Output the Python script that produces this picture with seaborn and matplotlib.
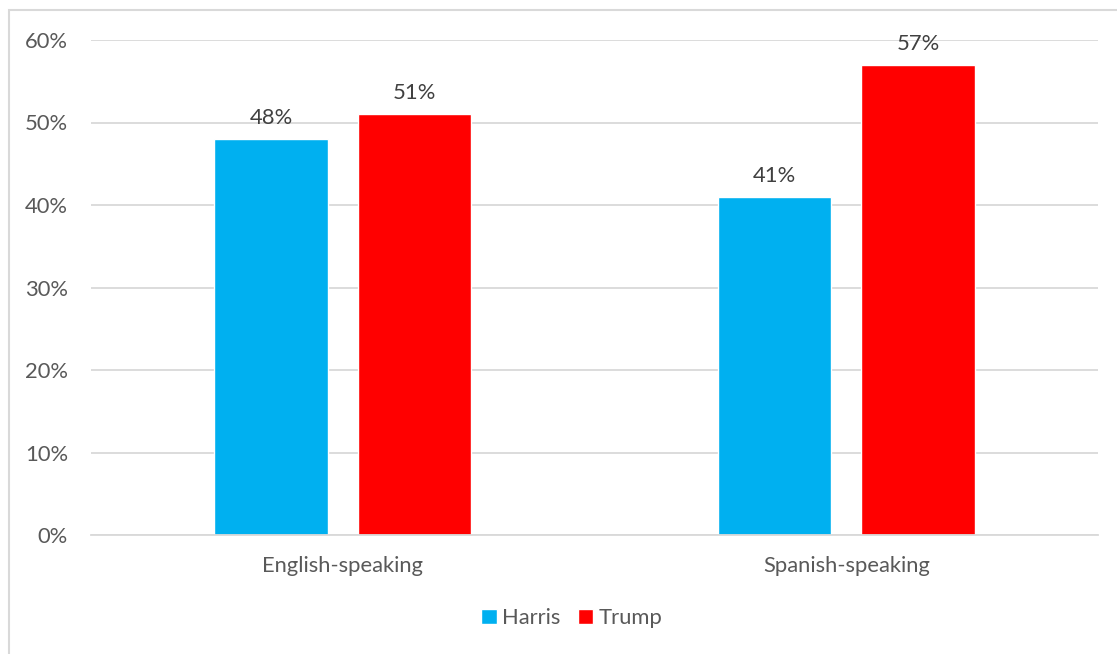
import matplotlib
matplotlib.use("Agg")
import matplotlib.pyplot as plt
from matplotlib.patches import Rectangle
import seaborn as sns
import pandas as pd

categories = ["English-speaking", "Spanish-speaking"]
candidates = ["Harris", "Trump"]
harris = [48, 41]
trump = [51, 57]
colors = {"Harris": "#00B0F0", "Trump": "#FF0000"}
yticks = [0, 10, 20, 30, 40, 50, 60]

df = pd.DataFrame({
    "group": categories * 2,
    "candidate": ["Harris"] * 2 + ["Trump"] * 2,
    "share": harris + trump,
})

sns.set_theme(style="white")
plt.rcParams["font.family"] = ["Lato", "DejaVu Sans"]
text_color = "#595959"
fs = 15.8

fig = plt.figure(figsize=(11.17, 6.54), dpi=100)
ax = fig.add_axes([91 / 1117, 1 - 535 / 654, (1098 - 91) / 1117, (535 - 40) / 654])

sns.barplot(data=df, x="group", y="share", hue="candidate", order=categories,
            hue_order=candidates, palette=colors, width=0.57, gap=0.21,
            saturation=1, ax=ax, legend=True)

ax.set_ylim(0, 60)
ax.set_xlim(-0.5, 1.5)
ax.set_yticks(yticks)
ax.set_yticklabels([f"{v}%" for v in yticks])
ax.yaxis.grid(True, color="#D9D9D9", linewidth=1.3)
ax.set_axisbelow(True)
for s in ["top", "right", "left"]:
    ax.spines[s].set_visible(False)
ax.spines["bottom"].set_color("#D9D9D9")
ax.spines["bottom"].set_linewidth(1.3)
ax.tick_params(axis="y", length=0, pad=16.5, labelsize=fs, labelcolor=text_color)
ax.tick_params(axis="x", length=0, pad=15, labelsize=fs, labelcolor=text_color)
ax.set_xlabel("")
ax.set_ylabel("")

for container in ax.containers:
    ax.bar_label(container, labels=[f"{v:.0f}%" for v in container.datavalues],
                 padding=8, fontsize=fs, color="#404040")

handles, labels = ax.get_legend_handles_labels()
ax.legend(handles, labels, loc="center", bbox_to_anchor=(572 / 1117, 1 - 618 / 654),
          bbox_transform=fig.transFigure, ncol=2, frameon=False,
          fontsize=fs, labelcolor=text_color, handlelength=0.7,
          handleheight=0.7, handletextpad=0.25, columnspacing=0.8)

fig.patches.append(Rectangle((9 / 1117, -0.1), 1.2, 1 - 10 / 654 + 0.1,
                             transform=fig.transFigure, fill=False,
                             edgecolor="#D9D9D9", linewidth=1.5))

fig.savefig("out.png", dpi=100, facecolor="white")
